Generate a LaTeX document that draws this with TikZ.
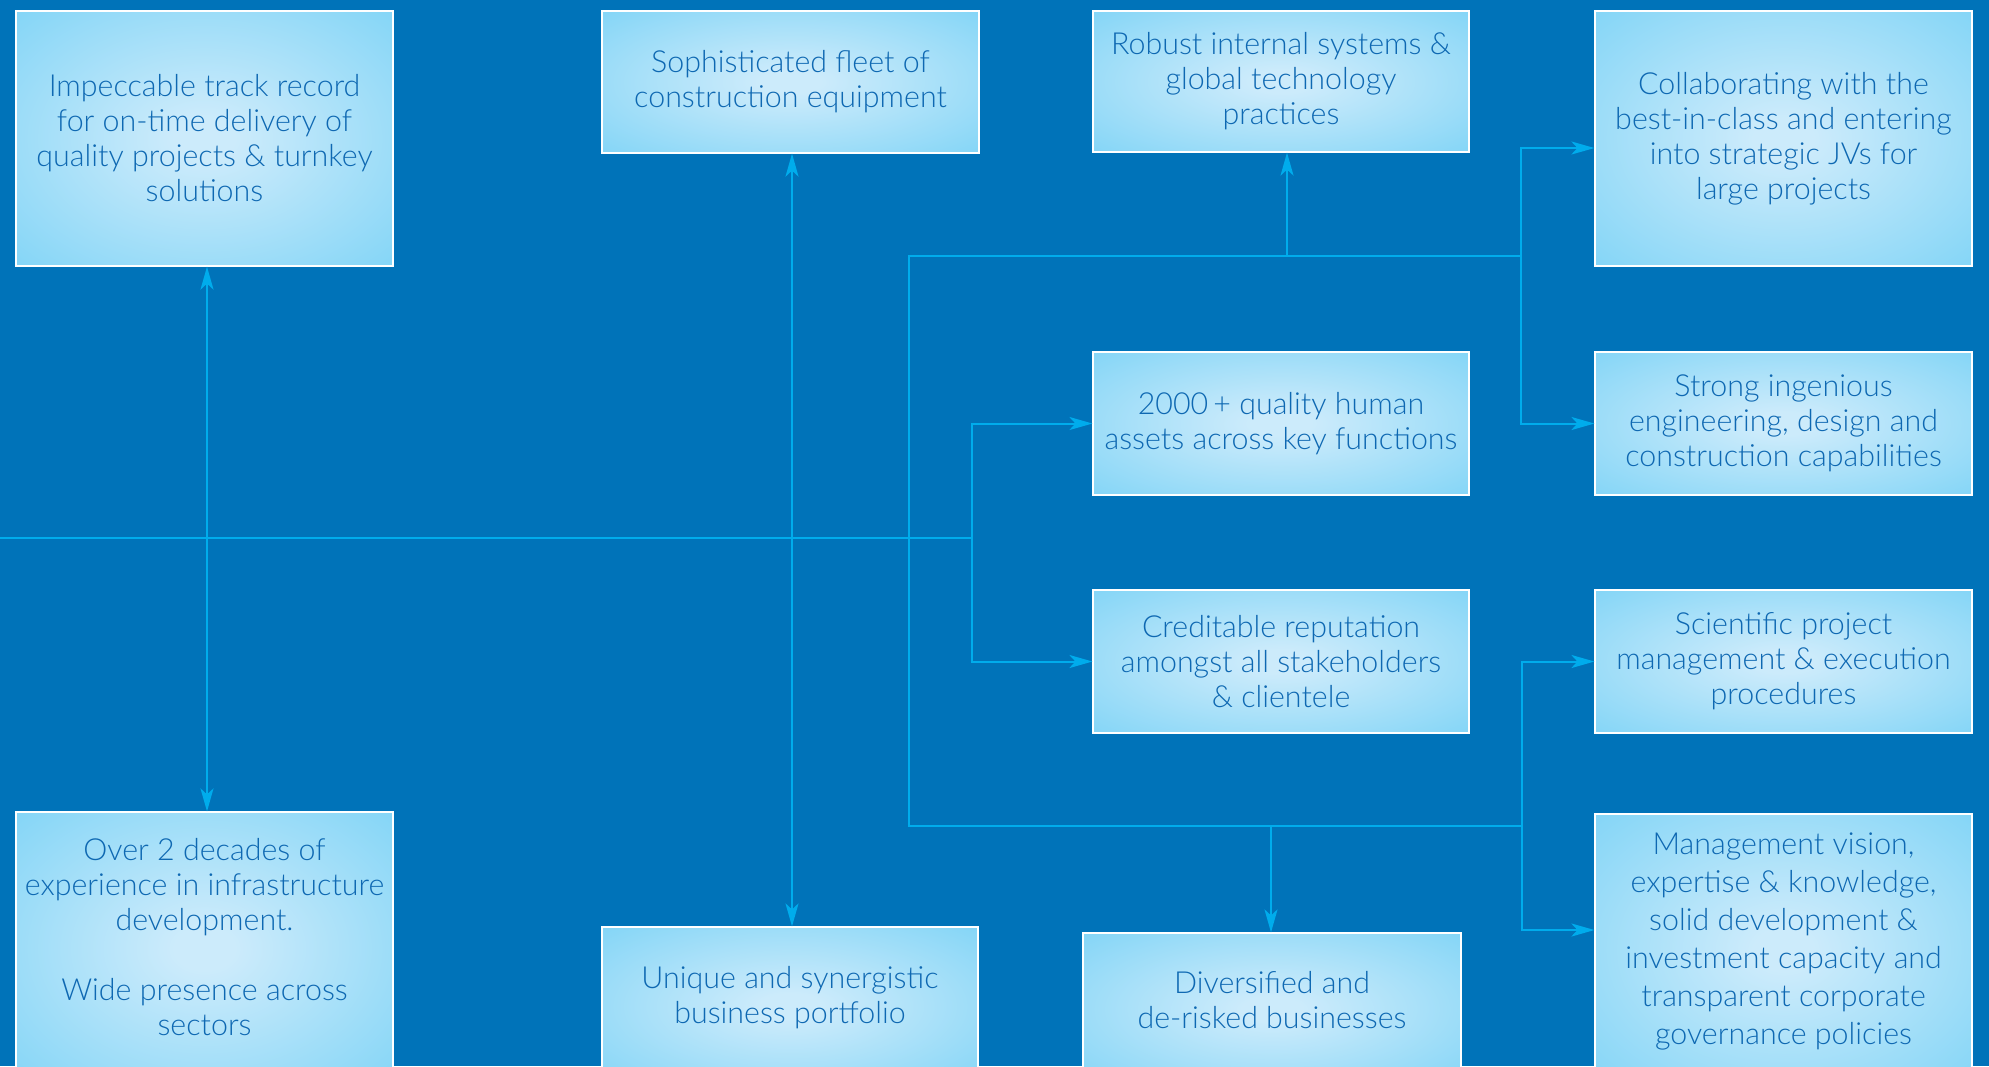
\documentclass[tikz,border=0pt]{standalone}
\usepackage{fontspec}
\setmainfont{Lato}[UprightFont=* Light]
\usetikzlibrary{arrows.meta}
\definecolor{bgc}{RGB}{0,115,185}
\definecolor{lnc}{RGB}{0,172,236}
\definecolor{txc}{RGB}{14,104,178}
\definecolor{boxin}{RGB}{204,235,251}
\definecolor{boxout}{RGB}{108,206,245}
\pgfdeclareradialshading{boxglow}{\pgfpoint{0bp}{0bp}}{color(0bp)=(boxin); color(4bp)=(boxin); color(46bp)=(boxout); color(80bp)=(boxout)}
\begin{document}
\begin{tikzpicture}[x=0.5pt,y=-0.5pt,
  box/.style={draw=white, line width=0.6pt, shading=boxglow, text=txc, align=center, inner sep=0pt,
    font=\fontsize{15.2}{17.5}\selectfont},
  txt/.style={text=txc, align=center, inner sep=0pt, font=\fontsize{15.2}{17.5}\selectfont},
  ln/.style={draw=lnc, line width=1pt},
  arr/.style={ln, -{Stealth[length=11.5pt, width=6.5pt, inset=3pt]}},
  arrb/.style={ln, {Stealth[length=11.5pt, width=6.5pt, inset=3pt]}-{Stealth[length=11.5pt, width=6.5pt, inset=3pt]}}]
\useasboundingbox (0,0) rectangle (1989,1066);
\clip (0,0) rectangle (1989,1066);
\fill[bgc] (0,0) rectangle (1989,1066);

% boxes
\node[box, minimum width=188.5pt, minimum height=127.5pt] (b1) at (204.5,138.5)
  {Impeccable track record\\for on-time delivery of\\quality projects \& turnkey\\solutions};
\node[box, minimum width=188.5pt, minimum height=71pt] (b2) at (790.5,82)
  {Sophisticated fleet of\\construction equipment};
\node[box, minimum width=188pt, minimum height=70.5pt] (b3) at (1281,81.5)
  {Robust internal systems \&\\global technology\\practices};
\node[box, minimum width=188.5pt, minimum height=127.5pt] (b4) at (1783.5,138.5)
  {Collaborating with the\\best-in-class and entering\\into strategic JVs for\\large projects};
\node[box, minimum width=188pt, minimum height=71.5pt] (b5) at (1281,423.5)
  {2000\,+ quality human\\assets across key functions};
\node[box, minimum width=188.5pt, minimum height=71.5pt] (b6) at (1783.5,423.5)
  {Strong ingenious\\engineering, design and\\construction capabilities};
\node[box, minimum width=188pt, minimum height=71.5pt] (b7) at (1281,661.5)
  {Creditable reputation\\amongst all stakeholders\\\& clientele};
\node[box, minimum width=188.5pt, minimum height=71.5pt] (b8) at (1783.5,661.5)
  {Scientific project\\management \& execution\\procedures};
\node[box, minimum width=188.5pt, minimum height=136.5pt] (b9) at (204.5,948.5) {};
\node[box, minimum width=188pt, minimum height=79pt] (b10) at (790,1006) {};
\node[box, minimum width=189pt, minimum height=76pt] (b11) at (1272,1009) {};
\node[box, minimum width=188.5pt, minimum height=135.5pt] (b12) at (1783.5,949.5) {};

\node[txt] (t9) at (204.5,937)
  {Over 2 decades of\\experience in infrastructure\\development.\\[17.5pt]Wide presence across\\sectors};
\node[txt] (t10) at (790,998) {Unique and synergistic\\business portfolio};
\node[txt] (t11) at (1272,1000) {Diversified and\\de-risked businesses};
\node[txt, font=\fontsize{15.2}{19}\selectfont] (t12) at (1783.5,941)
  {Management vision,\\expertise \& knowledge,\\solid development \&\\investment capacity and\\transparent corporate\\governance policies};

% junction coordinates
\coordinate (L0) at (0,538);
\coordinate (v1) at (207,538);
\coordinate (v2) at (792,538);
\coordinate (J) at (972,538);
\coordinate (tA) at (909,256);
\coordinate (tB) at (1521,256);
\coordinate (tU) at (1287,256);
\coordinate (bA) at (909,826);
\coordinate (bB) at (1522,826);
\coordinate (bD) at (1271,826);
\coordinate (r4) at (1521,148);
\coordinate (r12) at (1522,930);

% connectors
\draw[ln] (L0) -- (J);
\draw[arrb] (b1.south -| v1) -- (b9.north -| v1);
\draw[arrb] (b2.south -| v2) -- (b10.north -| v2);
\draw[ln] (tB) -- (tA) -- (bA) -- (bB);
\draw[arr] (tU) -- (b3.south -| tU);
\draw[arr] (tB) -- (r4) -- (r4 -| b4.west);
\draw[arr] (tB) |- (b6.west);
\draw[arr] (bD) -- (b11.north -| bD);
\draw[arr] (bB) |- (b8.west);
\draw[arr] (bB) -- (r12) -- (r12 -| b12.west);
\draw[arr] (J) |- (b5.west);
\draw[arr] (J) |- (b7.west);
\end{tikzpicture}
\end{document}
